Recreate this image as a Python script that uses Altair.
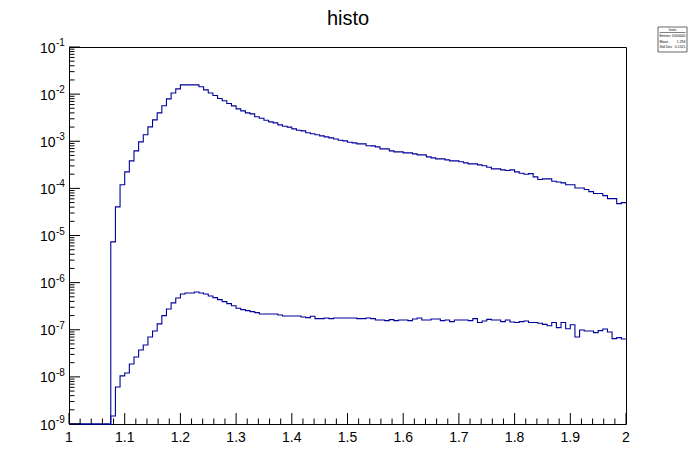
import altair as alt
import pandas as pd

# ---------------- data ----------------
n_bins = 120
x_min, x_max = 1.0, 2.0
y_min, y_max = 1e-9, 1e-1
first_filled = 9  # bins 0..8 are empty

upper_vals = [
    7.31e-6, 4.05e-5, 1.19e-4, 2.24e-4, 3.83e-4, 6.25e-4, 9.70e-4, 1.37e-3, 2.02e-3, 2.84e-3,
    4.01e-3, 5.65e-3, 7.94e-3, 1.06e-2, 1.29e-2, 1.57e-2, 1.57e-2, 1.57e-2, 1.57e-2, 1.43e-2,
    1.23e-2, 1.06e-2, 9.33e-3, 8.07e-3, 7.21e-3, 6.31e-3, 5.64e-3, 4.86e-3, 4.42e-3, 4.00e-3,
    3.81e-3, 3.30e-3, 3.08e-3, 2.80e-3, 2.58e-3, 2.46e-3, 2.23e-3, 2.08e-3, 1.99e-3, 1.83e-3,
    1.71e-3, 1.66e-3, 1.51e-3, 1.44e-3, 1.37e-3, 1.30e-3, 1.24e-3, 1.18e-3, 1.12e-3, 1.05e-3,
    1.02e-3, 9.53e-4, 9.23e-4, 8.79e-4, 8.79e-4, 8.04e-4, 7.98e-4, 7.60e-4, 6.89e-4, 6.89e-4,
    6.25e-4, 5.96e-4, 5.96e-4, 5.68e-4, 5.68e-4, 5.40e-4, 5.14e-4, 5.14e-4, 4.67e-4, 4.44e-4,
    4.23e-4, 4.23e-4, 4.03e-4, 3.84e-4, 3.84e-4, 3.66e-4, 3.48e-4, 3.31e-4, 3.31e-4, 3.16e-4,
    3.01e-4, 2.81e-4, 2.59e-4, 2.59e-4, 2.47e-4, 2.39e-4, 2.47e-4, 2.24e-4, 2.09e-4, 2.00e-4,
    2.06e-4, 1.75e-4, 1.54e-4, 1.59e-4, 1.59e-4, 1.42e-4, 1.37e-4, 1.31e-4, 1.19e-4, 1.19e-4,
    1.02e-4, 1.02e-4, 9.44e-5, 8.55e-5, 7.76e-5, 7.76e-5, 7.03e-5, 6.07e-5, 6.07e-5, 4.75e-5, 4.99e-5,
]

lower_vals = [
    1.48e-9, 6.10e-9, 1.05e-8, 1.21e-8, 1.88e-8, 2.65e-8, 3.72e-8, 4.75e-8, 7.03e-8, 9.44e-8,
    1.33e-7, 1.99e-7, 2.76e-7, 3.71e-7, 4.73e-7, 5.75e-7, 6.04e-7, 6.04e-7, 6.34e-7, 6.04e-7,
    5.75e-7, 5.21e-7, 4.80e-7, 4.36e-7, 3.95e-7, 3.59e-7, 3.24e-7, 2.85e-7, 2.67e-7, 2.55e-7,
    2.42e-7, 2.31e-7, 2.16e-7, 2.16e-7, 2.16e-7, 2.16e-7, 2.06e-7, 1.96e-7, 1.96e-7, 1.96e-7,
    1.96e-7, 1.87e-7, 1.81e-7, 1.93e-7, 1.72e-7, 1.72e-7, 1.78e-7, 1.72e-7, 1.78e-7, 1.78e-7,
    1.78e-7, 1.78e-7, 1.78e-7, 1.72e-7, 1.72e-7, 1.78e-7, 1.72e-7, 1.61e-7, 1.61e-7, 1.56e-7,
    1.64e-7, 1.56e-7, 1.61e-7, 1.61e-7, 1.56e-7, 1.69e-7, 1.78e-7, 1.61e-7, 1.61e-7, 1.69e-7,
    1.69e-7, 1.56e-7, 1.61e-7, 1.49e-7, 1.61e-7, 1.61e-7, 1.61e-7, 1.56e-7, 1.72e-7, 1.42e-7,
    1.53e-7, 1.66e-7, 1.61e-7, 1.61e-7, 1.49e-7, 1.61e-7, 1.46e-7, 1.42e-7, 1.49e-7, 1.53e-7,
    1.42e-7, 1.42e-7, 1.37e-7, 1.30e-7, 1.22e-7, 1.42e-7, 1.11e-7, 1.42e-7, 1.05e-7, 1.28e-7,
    7.03e-8, 9.89e-8, 9.42e-8, 9.42e-8, 8.67e-8, 9.57e-8, 1.04e-7, 8.97e-8, 6.47e-8, 6.79e-8, 6.37e-8,
]

upper_full = [0.0] * first_filled + upper_vals
lower_full = [0.0] * first_filled + lower_vals

x_major = [1.0, 1.1, 1.2, 1.3, 1.4, 1.5, 1.6, 1.7, 1.8, 1.9, 2.0]
x_major_labels = ["1", "1.1", "1.2", "1.3", "1.4", "1.5", "1.6", "1.7", "1.8", "1.9", "2"]
x_minor = [round(1.0 + 0.02 * k, 4) for k in range(51) if k % 5 != 0]
y_exponents = [-9, -8, -7, -6, -5, -4, -3, -2, -1]
y_minor_mult = [2, 3, 4, 5, 6, 7, 8, 9]

title_text = "histo"
stats_header = "histo"
stats_keys = ["Entries", "Mean", "Std Dev"]
stats_values = ["1000000", "1.294", "0.1521"]

# ---------------- build tables ----------------
W, H = 557, 377
LINE = "#00009a"
FONT = "Liberation Sans"

edges = [x_min + i * (x_max - x_min) / n_bins for i in range(n_bins + 1)]
rows = []
for name, vals in (("upper", upper_full), ("lower", lower_full)):
    for i in range(n_bins):
        v = vals[i] if vals[i] > 0 else y_min  # ROOT draws empty bins at the axis minimum
        rows.append({"series": name, "x": edges[i], "y": v, "order": i})
    last = vals[-1] if vals[-1] > 0 else y_min
    rows.append({"series": name, "x": edges[-1], "y": last, "order": n_bins})
hist_df = pd.DataFrame(rows)

xscale = alt.Scale(domain=[x_min, x_max], nice=False, zero=False)
yscale = alt.Scale(type="log", domain=[y_min, y_max], nice=False)

hist = alt.Chart(hist_df).mark_line(
    interpolate="step-after", color=LINE, strokeWidth=1.1
).encode(
    x=alt.X("x:Q", scale=xscale, axis=None),
    y=alt.Y("y:Q", scale=yscale, axis=None),
    detail="series:N",
    order="order:Q",
)

xmaj_df = pd.DataFrame({"x": x_major, "lab": x_major_labels})
xmin_df = pd.DataFrame({"x": x_minor})
ymaj_df = pd.DataFrame({"v": [10.0 ** e for e in y_exponents]})
ymin_df = pd.DataFrame({"v": [m * 10.0 ** e for e in y_exponents[:-1] for m in y_minor_mult]})

xmaj_ticks = alt.Chart(xmaj_df).mark_rule(color="black", strokeWidth=1).encode(
    x=alt.X("x:Q", scale=xscale, axis=None), y=alt.value(H), y2=alt.value(H - 11))
xmin_ticks = alt.Chart(xmin_df).mark_rule(color="black", strokeWidth=1).encode(
    x=alt.X("x:Q", scale=xscale, axis=None), y=alt.value(H), y2=alt.value(H - 5.5))
ymaj_ticks = alt.Chart(ymaj_df).mark_rule(color="black", strokeWidth=1).encode(
    y=alt.Y("v:Q", scale=yscale, axis=None), x=alt.value(0), x2=alt.value(11))
ymin_ticks = alt.Chart(ymin_df).mark_rule(color="black", strokeWidth=1).encode(
    y=alt.Y("v:Q", scale=yscale, axis=None), x=alt.value(0), x2=alt.value(5.5))

xlab = alt.Chart(xmaj_df).mark_text(
    align="center", baseline="alphabetic", fontSize=14, font=FONT, color="black"
).encode(x=alt.X("x:Q", scale=xscale, axis=None), y=alt.value(H + 18), text="lab:N")

ylab_df = pd.DataFrame({"v": [10.0 ** e for e in y_exponents],
                        "base": ["10"] * len(y_exponents),
                        "exp": [str(e) for e in y_exponents]})
ylab_base = alt.Chart(ylab_df).mark_text(
    align="right", baseline="middle", fontSize=14, font=FONT, color="black", dy=1.5
).encode(y=alt.Y("v:Q", scale=yscale, axis=None), x=alt.value(-13.5), text="base:N")
ylab_exp = alt.Chart(ylab_df).mark_text(
    align="left", baseline="alphabetic", fontSize=10, font=FONT, color="black", dy=-1
).encode(y=alt.Y("v:Q", scale=yscale, axis=None), x=alt.value(-13), text="exp:N")

title = alt.Chart(pd.DataFrame({"t": [title_text]})).mark_text(
    align="center", baseline="alphabetic", fontSize=20, font=FONT, color="black"
).encode(x=alt.value(279), y=alt.value(-22), text="t:N")

# stats box (top right, outside the frame)
bx0, bx1, by0, by1 = 589, 618, -20, 5
deco = pd.DataFrame({"a": [0]})
box = alt.Chart(deco).mark_rect(fill="white", stroke="black", strokeWidth=0.6).encode(
    x=alt.value(bx0), x2=alt.value(bx1), y=alt.value(by0), y2=alt.value(by1))
box_line = alt.Chart(deco).mark_rule(color="black", strokeWidth=0.5).encode(
    x=alt.value(bx0 + 1.5), x2=alt.value(bx1 - 1.5), y=alt.value(by0 + 5.5))
box_head = alt.Chart(pd.DataFrame({"t": [stats_header]})).mark_text(
    align="center", baseline="middle", fontSize=3.5, font=FONT, color="black"
).encode(x=alt.value((bx0 + bx1) / 2), y=alt.value(by0 + 2.8), text="t:N")

stat_layers = []
for i, (k, val) in enumerate(zip(stats_keys, stats_values)):
    row = pd.DataFrame({"k": [k], "val": [val]})
    yy = by0 + 9 + 5.5 * i
    stat_layers.append(alt.Chart(row).mark_text(
        align="left", baseline="middle", fontSize=3.5, font=FONT, color="black"
    ).encode(x=alt.value(bx0 + 1.5), y=alt.value(yy), text="k:N"))
    stat_layers.append(alt.Chart(row).mark_text(
        align="right", baseline="middle", fontSize=3.5, font=FONT, color="black"
    ).encode(x=alt.value(bx1 - 1.5), y=alt.value(yy), text="val:N"))

chart = alt.layer(
    hist, xmin_ticks, xmaj_ticks, ymin_ticks, ymaj_ticks, xlab, ylab_base, ylab_exp, title,
    box, box_line, box_head, *stat_layers
).properties(
    width=W, height=H,
    padding={"left": 61, "top": 39, "right": 62, "bottom": 40},
    autosize=alt.AutoSizeParams(type="none"),
    background="white",
).configure_view(stroke="black", strokeWidth=1)

chart.save("out.html", embed_options={"renderer": "svg", "actions": False})
